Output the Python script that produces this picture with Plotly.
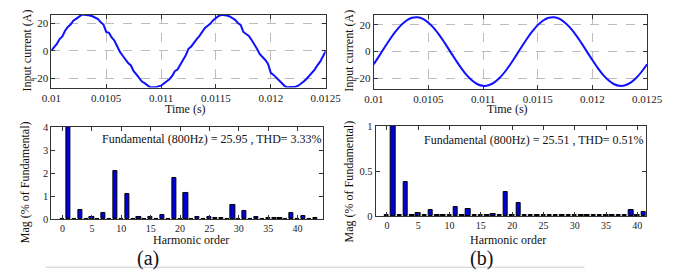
import plotly.graph_objects as go

# ---------------- data ----------------
time_a = [0.01 + 0.000025 * k for k in range(101)]
current_a = [0.5, 2.8, 5.2, 8.7, 10.6, 14.8, 17.6, 19.3, 22.1, 23.5,
             25.2, 26.4, 26.4, 26.4, 25.9, 25.4, 24.5, 23.3, 20.9, 19.3,
             13.9, 13.2, 9.9, 7.5, 3.5, -0.7, -3.5, -6.6, -8.9, -10.6,
             -14.8, -17.2, -20.2, -22.4, -23.5, -25.4, -26.6, -26.6, -26.6, -25.9,
             -25.4, -23.8, -22.4, -20.7, -18.4, -14.8, -13.6, -9.6, -6.6, -3.1,
             1.6, 3.3, 6.4, 8.7, 11.0, 14.0, 16.9, 18.5, 20.0, 22.5,
             24.0, 25.6, 26.4, 26.4, 25.9, 25.2, 24.0, 22.8, 20.5, 19.0,
             13.9, 12.5, 11.0, 8.0, 5.2, 1.5, -2.4, -4.5, -6.6, -9.5,
             -16.0, -17.5, -19.5, -21.8, -23.8, -25.5, -26.6, -26.6, -26.6, -26.2,
             -25.4, -24.2, -22.4, -20.5, -18.4, -16.0, -13.6, -10.5, -7.8, -4.0,
             -0.2]

time_b = [0.01 + 0.00005 * k for k in range(51)]
current_b = [-9.4, -3.2, 3.2, 9.4, 15.0, 19.7, 23.1, 25.1, 25.5, 24.3,
             21.5, 17.5, 12.3, 6.3, 0.0, -6.3, -12.3, -17.5, -21.5, -24.3,
             -25.5, -25.1, -23.1, -19.7, -15.0, -9.4, -3.2, 3.2, 9.4, 15.0,
             19.7, 23.1, 25.1, 25.5, 24.3, 21.5, 17.5, 12.3, 6.3, 0.0,
             -6.3, -12.3, -17.5, -21.5, -24.3, -25.5, -25.1, -23.1, -19.7, -15.0,
             -9.4]

harm_a = list(range(44))
mag_a = [0.02, 100, 0.02, 0.42, 0.02, 0.08, 0.02, 0.29, 0.02, 2.08,
         0.02, 1.08, 0.02, 0.08, 0.02, 0.09, 0.03, 0.20, 0.02, 1.77,
         0.02, 1.14, 0.02, 0.11, 0.03, 0.09, 0.05, 0.07, 0.02, 0.62,
         0.03, 0.35, 0.02, 0.09, 0.03, 0.05, 0.05, 0.07, 0.02, 0.27,
         0.02, 0.16, 0.03, 0.04]

harm_b = list(range(42))
mag_b = [0.01, 100, 0.01, 0.38, 0.01, 0.04, 0.01, 0.065, 0.01, 0.015,
         0.01, 0.10, 0.01, 0.085, 0.01, 0.015, 0.01, 0.028, 0.01, 0.27,
         0.01, 0.15, 0.01, 0.01, 0.01, 0.012, 0.01, 0.012, 0.01, 0.012,
         0.01, 0.012, 0.01, 0.018, 0.01, 0.01, 0.01, 0.012, 0.01, 0.066,
         0.01, 0.048]

time_ticks = [0.01, 0.0105, 0.011, 0.0115, 0.012, 0.0125]
time_labels = ["0.01", "0.0105", "0.011", "0.0115", "0.012", "0.0125"]
harm_ticks = [0, 5, 10, 15, 20, 25, 30, 35, 40]
ann_a = "Fundamental (800Hz) = 25.95 , THD= 3.33%"
ann_b = "Fundamental (800Hz) = 25.51 , THD= 0.51%"

# ---------------- layout helpers ----------------
W, H = 690, 278
def xd(a, b):
    return [a / W, b / W]
def yd(top, bot):
    return [1 - bot / H, 1 - top / H]

FONT = "Liberation Serif"
BLUE = "#1010ff"

fig = go.Figure()
fig.add_trace(go.Scatter(x=time_a, y=current_a, mode="lines",
                         line=dict(color=BLUE, width=2), xaxis="x", yaxis="y"))
fig.add_trace(go.Scatter(x=time_b, y=current_b, mode="lines",
                         line=dict(color=BLUE, width=2, shape="spline"),
                         xaxis="x2", yaxis="y2"))
fig.add_trace(go.Bar(x=harm_a, y=mag_a, width=0.7,
                     marker=dict(color="#0000dd", line=dict(color="black", width=1)),
                     xaxis="x3", yaxis="y3"))
fig.add_trace(go.Bar(x=harm_b, y=mag_b, width=0.7,
                     marker=dict(color="#0000dd", line=dict(color="black", width=1)),
                     xaxis="x4", yaxis="y4"))

def common(size):
    return dict(showline=True, linecolor="#333333", linewidth=1, mirror="ticks",
                ticks="inside", ticklen=4, tickcolor="#333333", zeroline=False,
                tickfont=dict(family=FONT, size=size, color="#222"))

grid = dict(showgrid=True, gridcolor="#bdbdbd", griddash="dash", gridwidth=1)

fig.update_layout(
    width=W, height=H, margin=dict(l=0, r=0, t=0, b=0),
    paper_bgcolor="white", plot_bgcolor="white", showlegend=False,
    font=dict(family=FONT),
    bargap=0,
    xaxis=dict(domain=xd(43, 328), range=[0.01, 0.0125], tickvals=time_ticks,
               ticktext=time_labels, anchor="y", **grid, **common(11)),
    yaxis=dict(domain=yd(10, 86), range=[-26.8, 26.6], tickvals=[-20, 0, 20],
               anchor="x", **grid, **common(11)),
    xaxis2=dict(domain=xd(378, 662), range=[0.01, 0.0125], tickvals=time_ticks,
                ticktext=time_labels, anchor="y2", **grid, **common(11)),
    yaxis2=dict(domain=yd(10, 87), range=[-27.5, 27.5], tickvals=[-20, 0, 20],
                anchor="x2", **grid, **common(11)),
    xaxis3=dict(domain=xd(43, 325), range=[-1.9, 44.3], tickvals=harm_ticks,
                anchor="y3", showgrid=False, **common(10)),
    yaxis3=dict(domain=yd(127, 223), range=[0, 4], tickvals=[0, 1, 2, 3, 4],
                anchor="x3", showgrid=False, **common(10.5)),
    xaxis4=dict(domain=xd(380, 661), range=[-1.8, 41.4], tickvals=harm_ticks,
                anchor="y4", showgrid=False, **common(10)),
    yaxis4=dict(domain=yd(126, 220), range=[0, 1], tickvals=[0, 0.5, 1],
                ticktext=["0", "0.5", "1"], anchor="x4", showgrid=False, **common(10.5)),
)

def txt(x, y, s, size=12, angle=0):
    fig.add_annotation(x=x / W, y=1 - y / H, xref="paper", yref="paper",
                       text=s, showarrow=False, textangle=angle,
                       xanchor="center", yanchor="middle",
                       font=dict(family=FONT, size=size, color="#111"))

txt(18, 47, "Input current (A)", angle=-90)
txt(352, 48, "Input current (A)", angle=-90)
txt(182, 108, "Time (s)")
txt(517, 108, "Time (s)")
txt(15, 184, "Mag (% of Fundamental)", angle=-90)
txt(352, 184, "Mag (% of Fundamental)", angle=-90)
txt(188, 245, "Harmonic order")
txt(517, 245, "Harmonic order")
txt(210, 140, ann_a)
txt(544, 141, ann_b)
txt(143, 264, "(a)", size=20)
txt(490, 264, "(b)", size=20)

fig.add_shape(type="line", xref="paper", yref="paper",
              x0=37 / W, x1=597 / W, y0=1 - 273 / H, y1=1 - 273 / H,
              line=dict(color="#cccccc", width=1))

css = ("var s=document.createElement('style');"
       "s.textContent='html,body{margin:0!important;padding:0!important;overflow:hidden!important;}';"
       "document.head.appendChild(s);")
fig.write_html("out.html", config={"displayModeBar": False}, post_script=css)
